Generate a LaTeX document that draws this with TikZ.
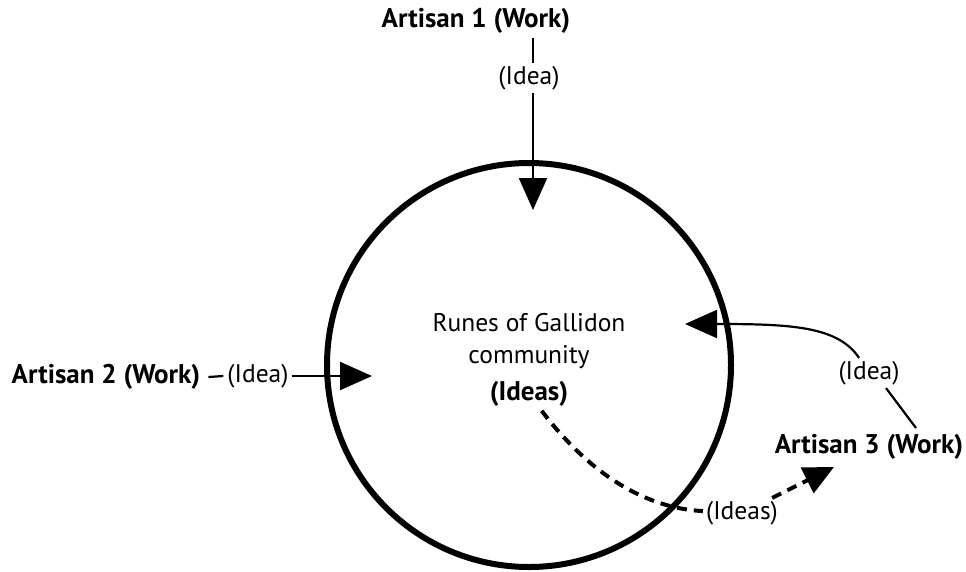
\documentclass[tikz,border=0pt]{standalone}
\usepackage{fontspec}
\setmainfont{PT Sans}
\usepackage{tikz}
\usetikzlibrary{arrows.meta,positioning}
\tikzset{
    ring/.style={
        draw,circle,line width=6pt,inner sep=0pt
    },
    artisan/.style={
        font=\fontsize{27}{32}\selectfont\bfseries,inner sep=4pt
    },
    tag/.style={
        font=\fontsize{25.5}{30}\selectfont,inner sep=3pt,fill=white
    },
    wire/.style={
        line width=2.2pt
    },
    arrow/.style={
        -{Triangle[length=32pt,width=28pt]},line width=2.2pt
    },
    dasharrow/.style={
        -{Triangle[length=30pt,width=28pt]},line width=4pt,
        dash pattern=on 10pt off 7pt
    }
}
\begin{document}
\begin{tikzpicture}[x=1pt,y=-1pt,node distance=6pt]
\useasboundingbox (0,0) rectangle (966,571);

\node[ring,minimum size=404pt] (community) at (529,365) {};

\node[align=center,font=\fontsize{25.5}{32}\selectfont] (runes) at (529,341)
{Runes of Gallidon\\community};
\node[artisan] (ideas) at (529,394) {(Ideas)};

\node[artisan] (artisan1) at (476,21) {Artisan 1 (Work)};
\node[tag] (idea1) at (529,78) {(Idea)};
\coordinate (tip1) at (533,210);

\node[artisan] (artisan2) at (106,377) {Artisan 2 (Work)};
\node[tag] (idea2) at (258,376) {(Idea)};
\coordinate (tip2) at (372,376);

\node[artisan] (artisan3) at (869,447) {Artisan 3 (Work)};
\node[tag] (idea3) at (869,373) {(Idea)};
\coordinate (from3) at (916,428);
\coordinate (tip3) at (685,324);

\node[tag] (ideasout) at (742,513) {(Ideas)};
\coordinate (tip4) at (834,467);

\draw[wire](artisan1.south -| tip1)--(idea1.north -| tip1);
\draw[arrow](idea1.south -| tip1)--(tip1);

\draw[wire]([xshift=4pt]artisan2.east)--([xshift=-1pt]idea2.west);
\draw[arrow](idea2.east)--(tip2);

\draw[wire](from3)--([xshift=17pt]idea3.south);
\draw[arrow](idea3) .. controls (838,326) and (790,324) .. (tip3);

\draw[dasharrow,-](ideas) .. controls (585,468) and (640,508) .. (ideasout);
\draw[dasharrow](ideasout)--(tip4);

\end{tikzpicture}
\end{document}
